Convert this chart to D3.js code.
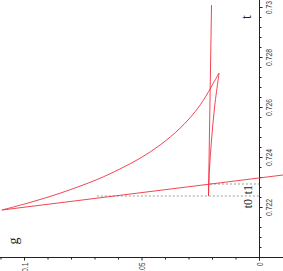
<!DOCTYPE html>
<html>
<head>
<meta charset="utf-8">
<script src="https://cdn.jsdelivr.net/npm/d3@7"></script>
<style>
  body { margin: 0; background: #fff; }
  svg { display: block; }
</style>
</head>
<body>
<div id="chart"></div>
<script>
// values, as (t, g) pairs
const arcT = [0.72188, 0.72218, 0.72255, 0.7231, 0.72352, 0.72395, 0.72448, 0.72515, 0.72581, 0.72637, 0.72686, 0.72736];
const arcG = [0.1094, 0.0975, 0.0847, 0.0689, 0.0592, 0.0506, 0.0421, 0.0336, 0.0272, 0.0230, 0.0200, 0.0170];

const backT = [0.72736, 0.726, 0.72468, 0.72348, 0.72244];
const backG = [0.0170, 0.0189, 0.0202, 0.0211, 0.0215];

const upT = [0.72244, 0.73008];
const upG = [0.0215, 0.0202];

const lineT = [0.72188, 0.72328];
const lineG = [0.1094, -0.0102];

// marked levels
const levelNames = ["t0", "t1"];
const levelT = [0.72244, 0.72292];
const levelFromG = [0.069, 0.0209];

// ticks
const gTicks = [0, 0.05, 0.1];
const gMinor = [0.01, 0.02, 0.03, 0.04, 0.06, 0.07, 0.08, 0.09, 0.11];
const tTicks = [0.722, 0.724, 0.726, 0.728, 0.73];
const tMinor = d3.range(0, 26).map(i => 0.72 + i * 0.0004)
    .filter(v => !tTicks.some(m => Math.abs(m - v) < 1e-7) && v > 0.7201);

const W = 283, H = 271;
const red = "#f0303f";

const svg = d3.select("#chart").append("svg")
    .attr("width", W)
    .attr("height", H);

// g runs to the left, t runs upward (rotated plot)
const x = d3.scaleLinear().domain([0, 0.1]).range([259, 24]);
const y = d3.scaleLinear().domain([0.72, 0.73]).range([257, 7]);

const zip = (ts, gs) => ts.map((t, i) => ({ t: t, g: gs[i] }));

const line = d3.line()
    .x(d => x(d.g))
    .y(d => y(d.t));

//dashed level lines
levelT.forEach((t, i) => {
    svg.append("line")
        .attr("x1", x(levelFromG[i]))
        .attr("x2", x(0))
        .attr("y1", y(t))
        .attr("y2", y(t))
        .attr("stroke", "#999")
        .attr("stroke-dasharray", "2,2")
        .attr("stroke-width", 1);
});

//axes lines
const axisY = Math.round(y(0.72)) + 0.5;
const axisX = Math.round(x(0)) + 0.5;
svg.append("line")
    .attr("x1", 0).attr("x2", W)
    .attr("y1", axisY).attr("y2", axisY)
    .attr("stroke", "#222");
svg.append("line")
    .attr("x1", axisX).attr("x2", axisX)
    .attr("y1", 0).attr("y2", axisY + 3)
    .attr("stroke", "#222");

// g axis (bottom)
const gAxis = svg.append("g")
    .attr("transform", `translate(0,${axisY})`)
    .call(d3.axisBottom(x).tickValues(gTicks).tickSize(3).tickSizeOuter(0)
        .tickFormat(d => d === 0 ? "0" : d3.format("")(d)));
svg.append("g")
    .attr("transform", `translate(0,${axisY})`)
    .call(d3.axisBottom(x).tickValues(gMinor).tickSize(2).tickSizeOuter(0).tickFormat(""));

// t axis (right)
const tAxis = svg.append("g")
    .attr("transform", `translate(${axisX},0)`)
    .call(d3.axisRight(y).tickValues(tTicks).tickSize(3).tickSizeOuter(0)
        .tickFormat(d3.format("")));
svg.append("g")
    .attr("transform", `translate(${axisX},0)`)
    .call(d3.axisRight(y).tickValues(tMinor).tickSize(2).tickSizeOuter(0).tickFormat(""));

svg.selectAll(".domain").remove();
svg.selectAll(".tick line").attr("stroke", "#222");

gAxis.selectAll("text")
    .attr("x", null).attr("y", null).attr("dy", null)
    .attr("transform", "translate(0,5) rotate(-90) scale(0.72,1)")
    .attr("text-anchor", "end")
    .attr("dy", "0.35em")
    .attr("font-family", "Liberation Sans, Arial, sans-serif")
    .attr("font-size", 9.5)
    .attr("fill", "#444");

tAxis.selectAll("text")
    .attr("x", null).attr("y", null).attr("dy", null)
    .attr("transform", "translate(9.5,0) rotate(-90) scale(0.72,1)")
    .attr("text-anchor", "middle")
    .attr("dy", "0.35em")
    .attr("font-family", "Liberation Sans, Arial, sans-serif")
    .attr("font-size", 9.5)
    .attr("fill", "#444");

//curves
const curves = [
    { data: zip(arcT, arcG), smooth: true },
    { data: zip(backT, backG), smooth: true },
    { data: zip(upT, upG), smooth: false },
    { data: zip(lineT, lineG), smooth: false }
];

svg.selectAll(".curve")
    .data(curves)
    .enter().append("path")
    .attr("class", "curve")
    .attr("d", d => line.curve(d.smooth ? d3.curveCatmullRom : d3.curveLinear)(d.data))
    .attr("fill", "none")
    .attr("stroke", red)
    .attr("stroke-width", 0.9);

// level labels, each just below its dashed line
const labelShift = [3, 1];
levelT.forEach((t, i) => {
    svg.append("text")
        .attr("transform", `translate(252,${y(t) + labelShift[i]}) rotate(-90)`)
        .attr("text-anchor", "end")
        .attr("font-family", "Liberation Serif, Times New Roman, serif")
        .attr("font-size", 12)
        .attr("fill", "#222")
        .text(levelNames[i]);
});

// axis titles
svg.append("text")
    .attr("transform", "translate(251,17) rotate(-90)")
    .attr("text-anchor", "middle")
    .attr("font-family", "Liberation Serif, Times New Roman, serif")
    .attr("font-size", 14)
    .attr("fill", "#222")
    .text("t");

svg.append("text")
    .attr("transform", "translate(18,241) rotate(-90)")
    .attr("text-anchor", "middle")
    .attr("font-family", "Liberation Serif, Times New Roman, serif")
    .attr("font-size", 14)
    .attr("fill", "#222")
    .text("g");
</script>
</body>
</html>
